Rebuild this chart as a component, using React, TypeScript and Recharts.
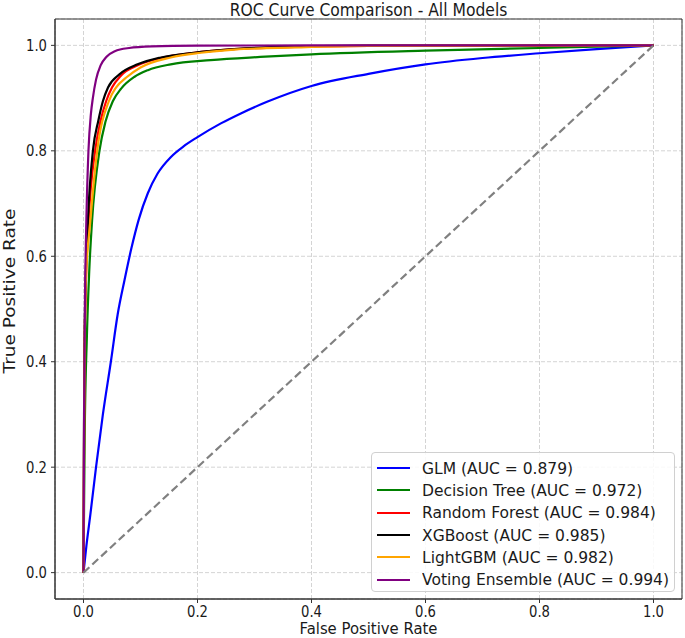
import React from "react";
import {
  LineChart,
  Line,
  XAxis,
  YAxis,
  CartesianGrid,
  ReferenceArea,
} from "recharts";

// ROC points: [false positive rate, true positive rate]
const glmPoints = [
  [0, 0], [0.005, 0.05], [0.012, 0.11], [0.022, 0.2], [0.034, 0.3], [0.048, 0.4],
  [0.06, 0.49], [0.072, 0.555], [0.084, 0.615], [0.097, 0.67], [0.113, 0.72],
  [0.13, 0.757], [0.153, 0.788], [0.175, 0.808], [0.2, 0.826], [0.241, 0.852],
  [0.276, 0.871], [0.322, 0.893], [0.4, 0.923], [0.5, 0.946], [0.6, 0.964],
  [0.7, 0.976], [0.8, 0.985], [0.9, 0.993], [1, 1],
];
const treePoints = [
  [0, 0], [0.002, 0.25], [0.006, 0.45], [0.01, 0.57], [0.015, 0.667], [0.028, 0.8],
  [0.0385, 0.855], [0.0514, 0.894], [0.066, 0.918], [0.089, 0.94], [0.113, 0.953],
  [0.153, 0.964], [0.223, 0.972], [0.31, 0.978], [0.4, 0.983], [0.6, 0.99],
  [0.8, 0.995], [1, 1],
];
const forestPoints = [
  [0, 0], [0.001, 0.28], [0.003, 0.5], [0.009, 0.667], [0.0204, 0.8], [0.03, 0.857],
  [0.0397, 0.894], [0.05, 0.92], [0.066, 0.943], [0.097, 0.963], [0.136, 0.976],
  [0.194, 0.986], [0.252, 0.992], [0.34, 0.996], [0.5, 0.999], [1, 1],
];
const xgbPoints = [
  [0, 0], [0.001, 0.3], [0.003, 0.52], [0.0077, 0.667], [0.0165, 0.8], [0.026, 0.857],
  [0.034, 0.894], [0.043, 0.92], [0.063, 0.945], [0.095, 0.964], [0.136, 0.977],
  [0.194, 0.986], [0.252, 0.992], [0.34, 0.997], [0.5, 0.9995], [1, 1],
];
const lgbmPoints = [
  [0, 0], [0.0015, 0.35], [0.004, 0.55], [0.012, 0.667], [0.024, 0.8], [0.0444, 0.894],
  [0.057, 0.92], [0.075, 0.939], [0.1, 0.958], [0.153, 0.977], [0.206, 0.986],
  [0.264, 0.992], [0.37, 0.996], [0.5, 0.999], [1, 1],
];
const votingPoints = [
  [0, 0], [0.001, 0.3], [0.003, 0.55], [0.005, 0.667], [0.0087, 0.8], [0.013, 0.87],
  [0.0164, 0.9], [0.022, 0.935], [0.03, 0.962], [0.04, 0.978], [0.055, 0.989],
  [0.08, 0.995], [0.12, 0.998], [0.2, 0.9995], [0.4, 1], [1, 1],
];
const chancePoints = [[0, 0], [1, 1]];

const modelNames = ["GLM", "Decision Tree", "Random Forest", "XGBoost", "LightGBM", "Voting Ensemble"];
const aucValues = [0.879, 0.972, 0.984, 0.985, 0.982, 0.994];
const modelColors = ["#0000ff", "#008000", "#ff0000", "#000000", "#ffa500", "#800080"];
const modelPoints = [glmPoints, treePoints, forestPoints, xgbPoints, lgbmPoints, votingPoints];

const axisTicks = [0, 0.2, 0.4, 0.6, 0.8, 1];

const toRows = (pts: number[][]) => pts.map(([x, y]) => ({ x, y }));

const FONT = "'DejaVu Sans', sans-serif";
const INK = "#1a1a1a";
// the source image is squeezed sideways, so the glyphs are narrower than normal
const SQUEEZE = 0.88;

const XTick = (props: any) => {
  const { x, y, payload } = props;
  return (
    <g transform={`translate(${x},${y})`}>
      <text transform={`scale(${SQUEEZE},1)`} textAnchor="middle" dy="0.75em" fill={INK} fontSize={15} fontFamily={FONT}>
        {Number(payload.value).toFixed(1)}
      </text>
    </g>
  );
};

const YTick = (props: any) => {
  const { x, y, payload } = props;
  return (
    <g transform={`translate(${x},${y})`}>
      <text transform={`scale(${SQUEEZE},1)`} textAnchor="end" dy="0.36em" fill={INK} fontSize={15} fontFamily={FONT}>
        {Number(payload.value).toFixed(1)}
      </text>
    </g>
  );
};

function LegendBox() {
  return (
    <div
      style={{
        position: "absolute",
        left: 371,
        top: 452,
        width: 304,
        height: 140,
        boxSizing: "border-box",
        border: "1px solid #d0d0d0",
        borderRadius: 4,
        background: "rgba(255,255,255,0.85)",
        padding: "4px 0 0 5px",
        fontFamily: FONT,
        fontSize: 16.5,
        color: INK,
      }}
    >
      {modelNames.map((name, i) => (
        <div key={name} style={{ display: "flex", alignItems: "center", height: 22.3 }}>
          <span style={{ width: 33, height: 2, background: modelColors[i], marginRight: 12, flexShrink: 0 }} />
          <span style={{ display: "inline-block", whiteSpace: "nowrap", transform: "scaleX(0.94)", transformOrigin: "left center" }}>
            {`${name} (AUC = ${aucValues[i].toFixed(3)})`}
          </span>
        </div>
      ))}
    </div>
  );
}

export default function App() {
  return (
    <div style={{ position: "absolute", left: 0, top: 0, width: 685, height: 638, background: "#fff", fontFamily: FONT, color: INK }}>
      <div
        style={{
          position: "absolute",
          left: 55,
          width: 627,
          top: 0,
          textAlign: "center",
          fontSize: 17.5,
          lineHeight: "20px",
          whiteSpace: "nowrap",
          transform: "scaleX(0.89)",
        }}
      >
        ROC Curve Comparison - All Models
      </div>
      <LineChart width={685} height={638} margin={{ top: 19, right: 3, bottom: 0, left: 0 }}>
        <CartesianGrid stroke="#d4d4d4" strokeDasharray="4 2" />
        <XAxis
          dataKey="x"
          type="number"
          domain={[-0.05, 1.05]}
          allowDataOverflow
          ticks={axisTicks}
          height={39}
          tickSize={4}
          tickMargin={3}
          stroke="#333"
          tick={<XTick />}
        />
        <YAxis
          type="number"
          domain={[-0.05, 1.05]}
          allowDataOverflow
          ticks={axisTicks}
          width={55}
          tickSize={4}
          tickMargin={4}
          stroke="#333"
          tick={<YTick />}
        />
        <ReferenceArea
          x1={-0.05}
          x2={1.05}
          y1={-0.05}
          y2={1.05}
          fill="none"
          stroke="#333"
          strokeWidth={1}
          ifOverflow="visible"
        />
        {modelNames.map((name, i) => (
          <Line
            key={name}
            data={toRows(modelPoints[i])}
            dataKey="y"
            name={name}
            type="monotone"
            stroke={modelColors[i]}
            strokeWidth={2.2}
            dot={false}
            isAnimationActive={false}
          />
        ))}
        <Line
          data={toRows(chancePoints)}
          dataKey="y"
          type="linear"
          stroke="#808080"
          strokeWidth={2.2}
          strokeDasharray="8 4"
          dot={false}
          isAnimationActive={false}
        />
      </LineChart>
      <div
        style={{
          position: "absolute",
          left: 55,
          width: 627,
          top: 619,
          textAlign: "center",
          fontSize: 16.5,
          lineHeight: "19px",
          whiteSpace: "nowrap",
          transform: "scaleX(0.9)",
        }}
      >
        False Positive Rate
      </div>
      <div
        style={{
          position: "absolute",
          left: 10 - 150,
          top: 291 - 10,
          width: 300,
          height: 20,
          textAlign: "center",
          fontSize: 18.5,
          lineHeight: "20px",
          whiteSpace: "nowrap",
          transform: "rotate(-90deg) scaleY(0.88)",
        }}
      >
        True Positive Rate
      </div>
      <LegendBox />
    </div>
  );
}
